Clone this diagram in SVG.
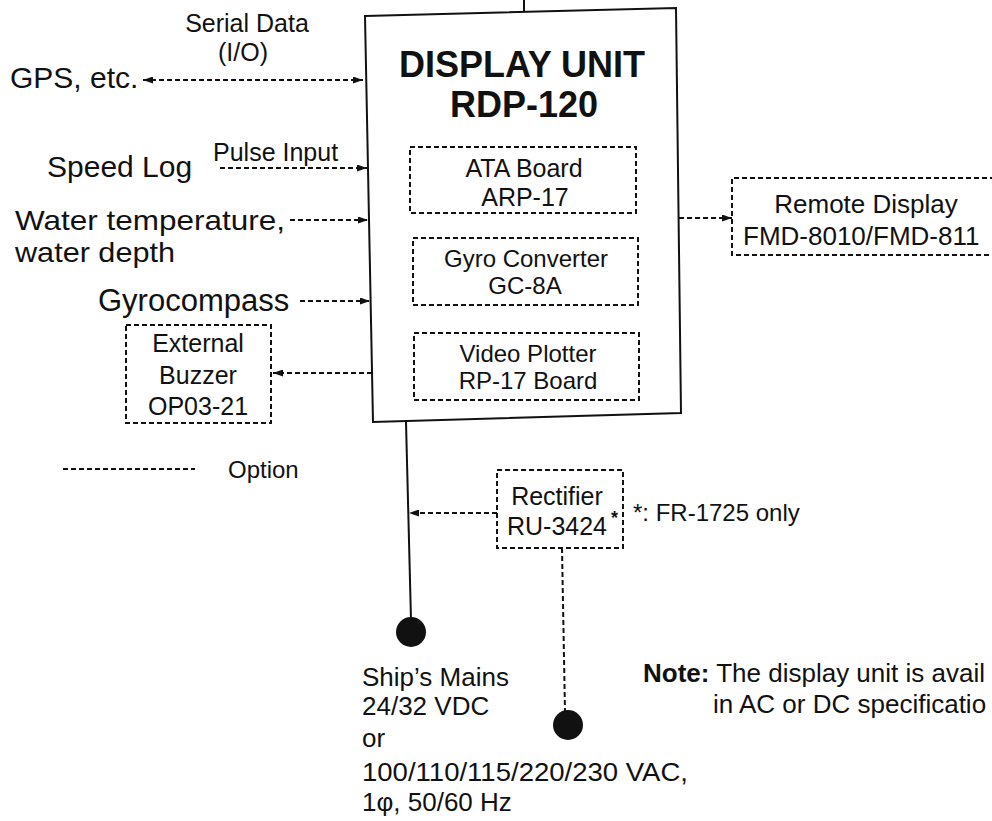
<svg xmlns="http://www.w3.org/2000/svg" width="992" height="821" viewBox="0 0 992 821">
<defs>
<style>
text{font-family:"Liberation Sans",Arial,sans-serif;fill:#111}
.c{text-anchor:middle}
.b{font-weight:bold}
.solid{fill:none;stroke:#111;stroke-width:2}
.dash{fill:none;stroke:#111;stroke-width:2;stroke-dasharray:5,3}
.box{fill:#fff;stroke:#111;stroke-width:2}
.dbox{fill:none;stroke:#111;stroke-width:2;stroke-dasharray:5,3}
.dot{fill:#111}
</style>
<marker id="ah" viewBox="0 0 10 7" refX="10" refY="3.5" markerWidth="11" markerHeight="7" markerUnits="userSpaceOnUse" orient="auto-start-reverse">
<path d="M0,0 L10,3.5 L0,7 z" fill="#111"/>
</marker>
</defs>
<rect width="992" height="821" fill="#fff"/>

<g id="connectors">
<line class="solid" x1="524" y1="0" x2="524" y2="13"/>
<line class="dash" x1="143" y1="80" x2="363" y2="80" marker-start="url(#ah)" marker-end="url(#ah)"/>
<line class="dash" x1="220" y1="168" x2="367" y2="168" marker-end="url(#ah)"/>
<line class="dash" x1="290" y1="220" x2="368" y2="220" marker-end="url(#ah)"/>
<line class="dash" x1="300" y1="301" x2="370" y2="301" marker-end="url(#ah)"/>
<line class="dash" x1="372" y1="373" x2="273" y2="373" marker-end="url(#ah)"/>
<line class="dash" x1="679" y1="218" x2="732" y2="218" marker-end="url(#ah)"/>
<line class="solid" x1="406" y1="422" x2="411" y2="620"/>
<line class="dash" x1="497" y1="513" x2="409" y2="513" marker-end="url(#ah)"/>
<line class="dash" x1="562" y1="548" x2="565" y2="712"/>
</g>

<g id="display-unit">
<polygon class="box" points="365,16 676,8 681,413 373,422"/>
<text class="c b" x="522" y="77" font-size="36">DISPLAY UNIT</text>
<text class="c b" x="524" y="117" font-size="36">RDP-120</text>
</g>

<g id="ata-board">
<rect class="dbox" x="410" y="147" width="226" height="66"/>
<text class="c" x="524" y="177" font-size="25">ATA Board</text>
<text class="c" x="525" y="206" font-size="25">ARP-17</text>
</g>

<g id="gyro-converter">
<rect class="dbox" x="413" y="238" width="225" height="67"/>
<text class="c" x="526" y="267" font-size="24">Gyro Converter</text>
<text class="c" x="525" y="294" font-size="24">GC-8A</text>
</g>

<g id="video-plotter">
<rect class="dbox" x="414" y="333" width="225" height="67"/>
<text class="c" x="528" y="362" font-size="24">Video Plotter</text>
<text class="c" x="528" y="389" font-size="24">RP-17 Board</text>
</g>

<g id="gps">
<text x="10" y="88" font-size="30">GPS, etc.</text>
<text class="c" x="247" y="32" font-size="25">Serial Data</text>
<text class="c" x="243" y="61" font-size="25">(I/O)</text>
</g>

<g id="speed-log">
<text x="47" y="177" font-size="30">Speed Log</text>
<text x="213" y="161" font-size="25">Pulse Input</text>
</g>

<g id="water">
<text x="15" y="230" font-size="28" textLength="270" lengthAdjust="spacingAndGlyphs">Water temperature,</text>
<text x="15" y="262" font-size="28" textLength="160" lengthAdjust="spacingAndGlyphs">water depth</text>
</g>

<g id="gyrocompass">
<text x="98" y="311" font-size="31">Gyrocompass</text>
</g>

<g id="external-buzzer">
<rect class="dbox" x="126" y="325" width="145" height="98"/>
<text class="c" x="198" y="352" font-size="25">External</text>
<text class="c" x="198" y="384" font-size="25">Buzzer</text>
<text class="c" x="198" y="415" font-size="25">OP03-21</text>
</g>

<g id="legend">
<line class="dash" x1="63" y1="469" x2="195" y2="469"/>
<text x="228" y="478" font-size="24">Option</text>
</g>

<g id="remote-display">
<path class="dbox" d="M995,178 H732 V255 H995"/>
<text class="c" x="866" y="213" font-size="26">Remote Display</text>
<text x="743" y="245" font-size="26">FMD-8010/FMD-811</text>
</g>

<g id="rectifier">
<rect class="dbox" x="497" y="470" width="126" height="78"/>
<text class="c" x="557" y="505" font-size="25">Rectifier</text>
<text class="c" x="557" y="535" font-size="25">RU-3424</text>
<text x="611" y="524" font-size="18" font-weight="bold">*</text>
<text x="633" y="521" font-size="24">*: FR-1725 only</text>
</g>

<g id="ships-mains">
<circle class="dot" cx="411" cy="632" r="15"/>
<text x="362" y="686" font-size="26">Ship’s Mains</text>
<text x="362" y="715" font-size="26">24/32 VDC</text>
<text x="362" y="747" font-size="26">or</text>
<text x="362" y="781" font-size="26" textLength="326" lengthAdjust="spacingAndGlyphs">100/110/115/220/230 VAC,</text>
<text x="362" y="811" font-size="26">1φ, 50/60 Hz</text>
</g>

<g id="rectifier-mains">
<circle class="dot" cx="568" cy="725" r="15"/>
</g>

<g id="note">
<text x="643" y="682" font-size="26"><tspan font-weight="bold">Note:</tspan> The display unit is avail</text>
<text x="713" y="713" font-size="26">in AC or DC specificatio</text>
</g>
</svg>
